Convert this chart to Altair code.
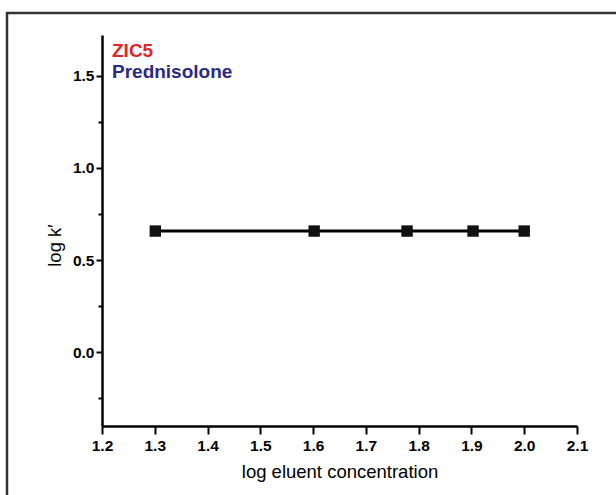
import altair as alt
import pandas as pd

# data
log_conc = [1.301, 1.602, 1.778, 1.903, 2.0]
log_k = [0.657, 0.657, 0.657, 0.657, 0.657]

x_ticks = [1.2, 1.25, 1.3, 1.35, 1.4, 1.45, 1.5, 1.55, 1.6, 1.65, 1.7, 1.75,
           1.8, 1.85, 1.9, 1.95, 2.0, 2.05, 2.1]
y_ticks = [-0.25, 0.0, 0.25, 0.5, 0.75, 1.0, 1.25, 1.5]
labels = ["ZIC5", "Prednisolone"]
label_colors = ["#e02427", "#2b2a84"]

df = pd.DataFrame({"x": log_conc, "y": log_k})

W, H = 475, 391
FONT = "Liberation Sans"

x_minor = "abs(round(datum.value*10) - datum.value*10) > 0.01"
y_minor = "abs(round(datum.value*2) - datum.value*2) > 0.01"

x_enc = alt.X(
    "x:Q",
    scale=alt.Scale(domain=[1.2, 2.1], nice=False, zero=False),
    axis=alt.Axis(
        values=x_ticks,
        title="log eluent concentration",
        labelExpr=f"{x_minor} ? '' : format(datum.value, '.1f')",
        tickSize={"condition": {"test": x_minor, "value": 4}, "value": 8},
        labelPadding=4,
        labelFlush=False,
        titlePadding=9,
        grid=False,
    ),
)
y_enc = alt.Y(
    "y:Q",
    scale=alt.Scale(domain=[-0.4, 1.72], nice=False, zero=False),
    axis=alt.Axis(
        values=y_ticks,
        title="log k\u2032",
        labelExpr=f"{y_minor} ? '' : format(datum.value, '.1f')",
        tickSize={"condition": {"test": y_minor, "value": 4}, "value": 6},
        labelPadding=2,
        labelFlush=False,
        titlePadding=8,
        titleY=210,
        grid=False,
    ),
)

line = alt.Chart(df).mark_line(color="black", strokeWidth=3).encode(x=x_enc, y=y_enc)
pts = alt.Chart(df).mark_square(color="#111111", size=130, opacity=1).encode(x="x:Q", y="y:Q")

frame = alt.Chart(pd.DataFrame({"a": [0]})).mark_rect(
    fillOpacity=0, stroke="#333333", strokeWidth=2.5
).encode(
    x=alt.value(-95), x2=alt.value(W + 200),
    y=alt.value(-22), y2=alt.value(H + 200),
)

lab_df = pd.DataFrame({"t": labels, "c": label_colors, "yy": [16, 37]})
txt = alt.Chart(lab_df).mark_text(
    align="left", baseline="middle", font=FONT, fontWeight="bold", fontSize=19
).encode(
    x=alt.value(10),
    y=alt.Y("yy:Q", scale=None),
    text="t:N",
    color=alt.Color("c:N", scale=None),
)

chart = alt.layer(frame, line, pts, txt).properties(
    width=W, height=H,
    background="white",
    autosize=alt.AutoSizeParams(type="none"),
    padding={"left": 102, "top": 35, "right": 39, "bottom": 69},
).configure_view(stroke=None).configure_axis(
    domainColor="black", domainWidth=2.5, tickColor="black", tickWidth=2,
    labelFont=FONT, labelFontWeight="bold", labelFontSize=15.5, labelColor="black",
    titleFont=FONT, titleFontWeight="normal", titleFontSize=18.5, titleColor="black",
)

chart.save("out.html", embed_options={"renderer": "svg", "actions": False})
